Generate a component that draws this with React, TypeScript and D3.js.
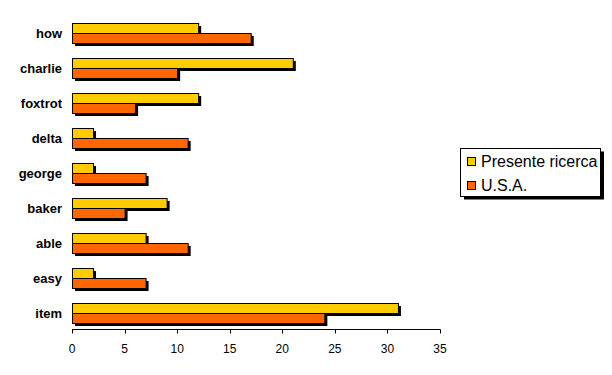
import React from "react";
import * as d3 from "d3";

const categories = ["how", "charlie", "foxtrot", "delta", "george", "baker", "able", "easy", "item"];
const presente = [12, 21, 12, 2, 2, 9, 7, 2, 31];
const usa = [17, 10, 6, 11, 7, 5, 11, 7, 24];
const seriesNames = ["Presente ricerca", "U.S.A."];
const seriesColors = ["#FFCC00", "#FF6600"];
const xTicks = [0, 5, 10, 15, 20, 25, 30, 35];

const W = 612;
const H = 375;
const left = 72;
const right = 440;
const top = 15.5;
const bottom = 330.5;
const font = "Arial, 'Liberation Sans', sans-serif";

export default function App() {
  const x = d3.scaleLinear().domain([0, 35]).range([left, right]);
  const y = d3.scaleBand<string>().domain(categories).range([top, bottom]);
  const barH = 10;
  const sh = 3;
  const series = [presente, usa];
  const axisY = 329.5;

  const rects: { x: number; y: number; w: number; c: string }[] = [];
  categories.forEach((cat, i) => {
    const cy = (y(cat) as number) + y.bandwidth() / 2;
    series.forEach((s, si) => {
      rects.push({ x: x(0), y: cy - barH + si * barH, w: x(s[i]) - x(0), c: seriesColors[si] });
    });
  });

  return (
    <svg width={W} height={H} style={{ position: "absolute", left: 0, top: 0, background: "#fff" }}>
      {rects.map((r, i) => (
        <rect key={"s" + i} x={r.x + sh} y={r.y + sh} width={r.w} height={barH} fill="#000" />
      ))}
      {rects.map((r, i) => (
        <rect key={"b" + i} x={r.x + 0.5} y={r.y + 0.5} width={r.w} height={barH} fill={r.c} stroke="#000" strokeWidth={1} />
      ))}
      {categories.map((cat) => (
        <text
          key={cat}
          x={62}
          y={(y(cat) as number) + y.bandwidth() / 2}
          textAnchor="end"
          dominantBaseline="central"
          fontFamily={font}
          fontWeight="bold"
          fontSize={13}
          fill="#000"
        >
          {cat}
        </text>
      ))}
      <line x1={x(0)} x2={x(35) + 0.5} y1={axisY} y2={axisY} stroke="#000" />
      {xTicks.map((t) => (
        <g key={t}>
          <line x1={Math.round(x(t)) + 0.5} x2={Math.round(x(t)) + 0.5} y1={axisY} y2={axisY + 4} stroke="#000" />
          <text x={x(t)} y={349} textAnchor="middle" dominantBaseline="central" fontFamily={font} fontSize={12} fill="#000">
            {t}
          </text>
        </g>
      ))}
      <rect x={464} y={151.5} width={140} height={48} fill="#000" />
      <rect x={460.5} y={148.5} width={140} height={48} fill="#fff" stroke="#000" />
      {seriesNames.map((n, i) => (
        <g key={n}>
          <rect x={467.5} y={157.5 + i * 24} width={8} height={8} fill={seriesColors[i]} stroke="#000" />
          <text x={481} y={161.5 + i * 24} dominantBaseline="central" fontFamily={font} fontSize={16} fill="#000">
            {n}
          </text>
        </g>
      ))}
    </svg>
  );
}
